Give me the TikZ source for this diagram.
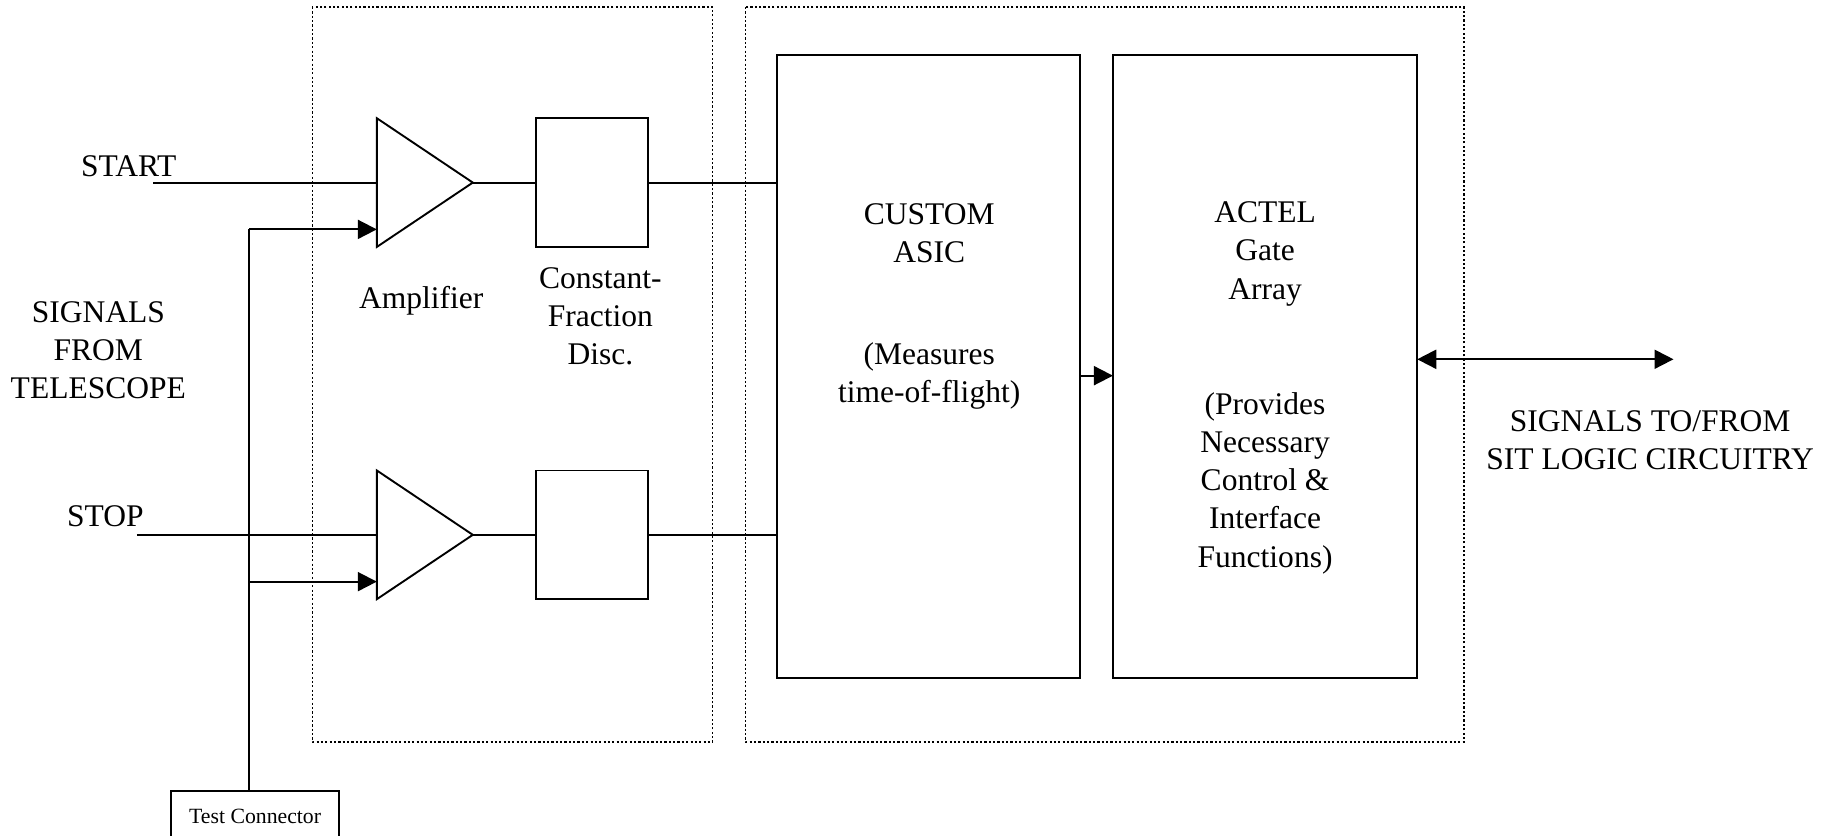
\documentclass[tikz,border=0pt]{standalone}
\usepackage{fontspec}
\setmainfont{Liberation Serif}
\usetikzlibrary{arrows.meta,shapes.geometric,fit}

\begin{document}
\begin{tikzpicture}[x=0.01514cm, y=-0.01514cm,
  every node/.style={font=\fontsize{11.6}{14}\selectfont},
  blk/.style={draw, line width=0.7pt, inner sep=0pt, outer sep=0pt},
  amp/.style={draw, line width=0.7pt, isosceles triangle, isosceles triangle stretches,
    shape border rotate=0, minimum width=110*0.01514cm, minimum height=82*0.01514cm,
    inner sep=0pt, outer sep=0pt, anchor=west},
  wire/.style={line width=0.7pt},
  arr/.style={wire, -{Triangle[length=7pt,width=7pt]}},
  biarr/.style={wire, {Triangle[length=7pt,width=7pt]}-{Triangle[length=7pt,width=7pt]}},
  grp/.style={line width=0.45pt, dash pattern=on 0.8pt off 0.8pt}]
  \useasboundingbox (0,0) rectangle (1568,714);
  % rows: 1 unit = 1 px of the sheet
  \def\ya{156}
  \def\yb{457}
  \def\busx{213}

  % ---- group frames ----
  \draw[grp] (267,6) rectangle (609,634);
  \draw[grp] (637,6) rectangle (1251,634);

  % ---- START channel ----
  \node (startlbl) at (110,142) {START};
  \coordinate (startin) at (131,\ya);
  \node[amp] (amp1) at (322,\ya) {};
  \node[blk, fit={(458,101) (554,211)}] (cfd1) {};
  \draw[wire] (startin) -- (amp1.west);
  \draw[wire] (amp1.east) -- (cfd1.west);

  % ---- STOP channel ----
  \node (stoplbl) at (90,441) {STOP};
  \coordinate (stopin) at (117,\yb);
  \node[amp] (amp2) at (322,\yb) {};
  \node[blk, fit={(458,402) (554,512)}] (cfd2) {};
  \draw[wire] (stopin) -- (amp2.west);
  \draw[wire] (amp2.east) -- (cfd2.west);

  \node (amplbl) at (360,257) {Amplifier};
  \node[align=center] (cfdlbl) at (513,270) {Constant-\\Fraction\\Disc.};
  \node[align=center] (srclbl) at (84,299) {SIGNALS\\FROM\\TELESCOPE};

  % ---- test inputs ----
  \node[blk, font=\fontsize{8}{9.6}\selectfont, minimum width=144*0.01514cm,
    minimum height=44*0.01514cm, anchor=north] (test) at (218,676) {Test Connector};
  \coordinate (tap1) at (\busx,196);
  \coordinate (tap2) at (\busx,497);
  \draw[wire] (tap1) -- (tap1 |- test.north);
  \draw[arr] (tap1) -- (tap1 -| amp1.west);
  \draw[arr] (tap2) -- (tap2 -| amp2.west);

  % ---- ASIC + gate array ----
  \node[blk, fit={(664,47) (923,579)}] (asic) {};
  \node[blk, fit={(951,47) (1211,579)}] (actel) {};
  \node[align=center] (asicname) at (794,199) {CUSTOM\\ASIC};
  \node[align=center] (asicnote) at (794,321) {(Measures\\time-of-flight)};
  \node[align=center] (actelname) at (1081,217) {ACTEL\\Gate\\Array};
  \node[align=center] (actelnote) at (1081,413) {(Provides\\Necessary\\Control \&\\Interface\\Functions)};
  \draw[wire] (cfd1.east) -- (cfd1.east -| asic.west);
  \draw[wire] (cfd2.east) -- (cfd2.east -| asic.west);
  \coordinate (tofout) at (923,321);
  \draw[arr] (tofout) -- (tofout -| actel.west);

  % ---- SIT logic link ----
  \coordinate (sitend) at (1430,307);
  \draw[biarr] (sitend -| actel.east) -- (sitend);
  \node[align=center] (sitlbl) at (1410,376) {SIGNALS TO/FROM\\SIT LOGIC CIRCUITRY};
\end{tikzpicture}
\end{document}
